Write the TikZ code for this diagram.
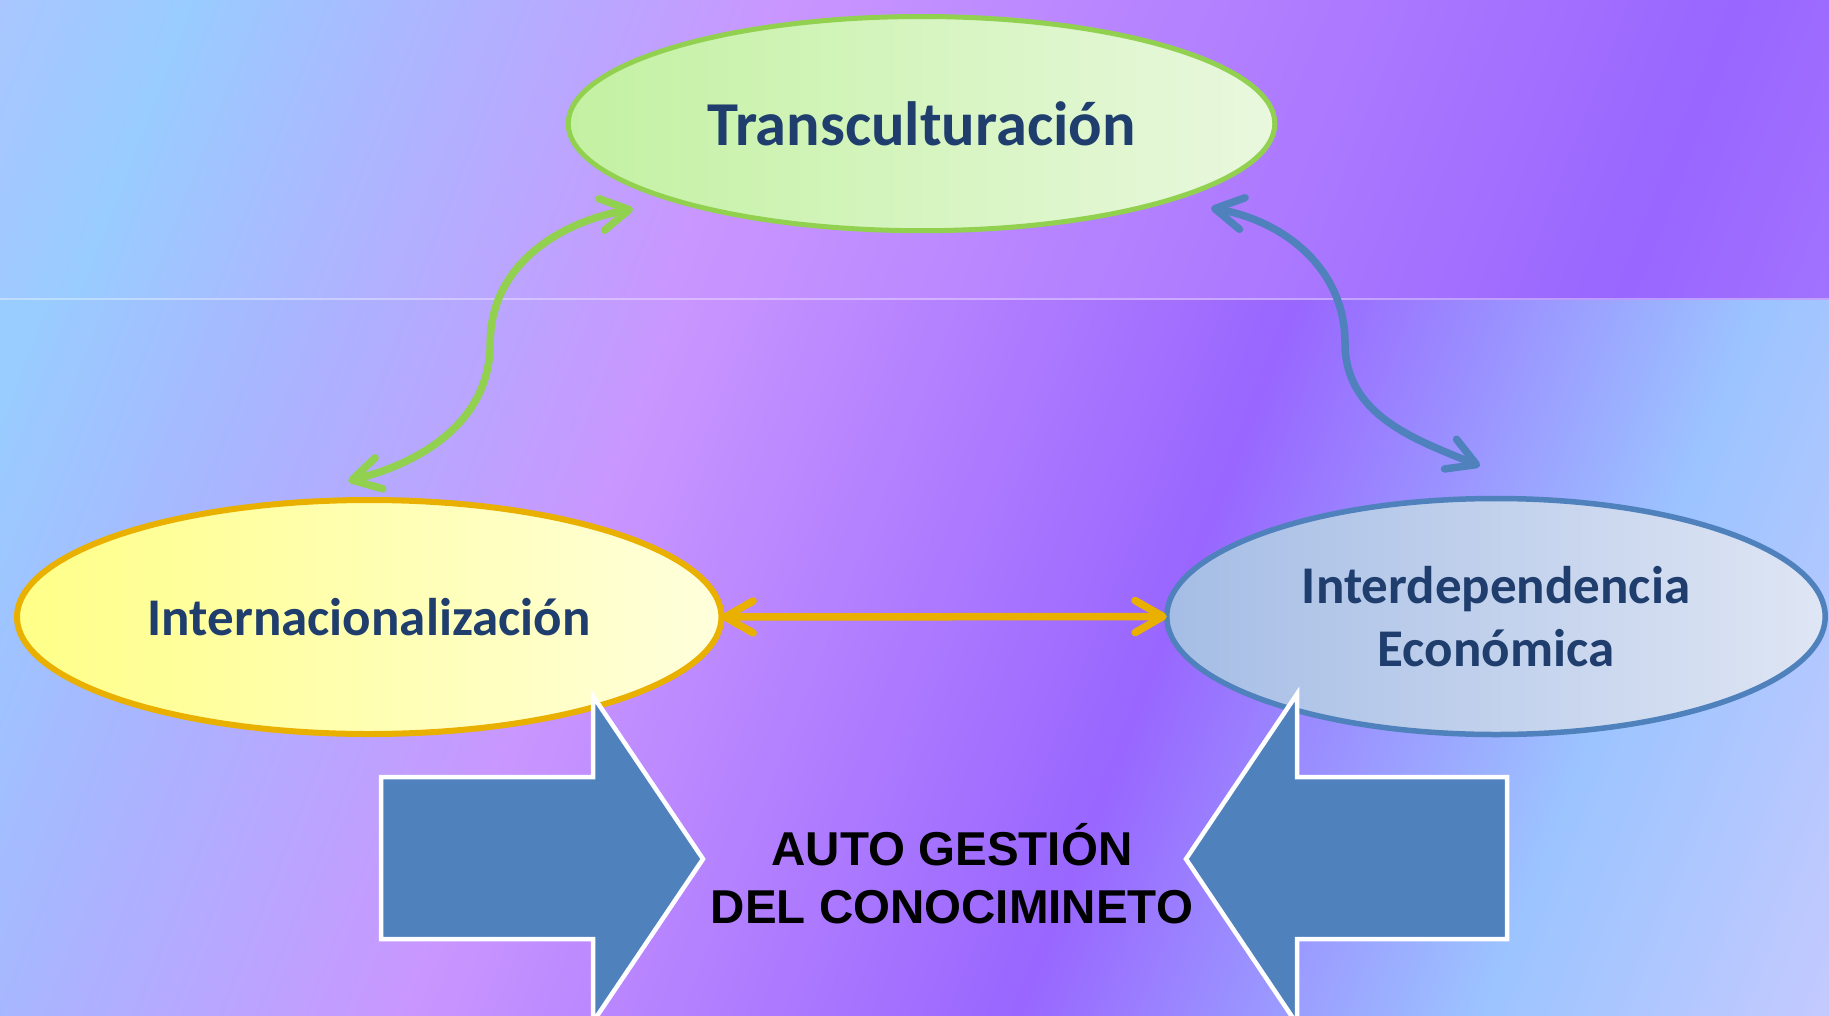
\documentclass[tikz,border=0pt]{standalone}
\usepackage{fontspec}
\newfontfamily\carlitofont{Carlito}
\newfontfamily\libsansfont{Liberation Sans}
\usetikzlibrary{shapes.geometric,arrows.meta,calc}

% background colours
\definecolor{bgA}{HTML}{A9C6FF}
\definecolor{bgLB}{HTML}{99CCFF}
\definecolor{bgLB2}{HTML}{A8B6FF}
\definecolor{bgPink}{HTML}{C996FF}
\definecolor{bgPurple}{HTML}{9966FF}
\definecolor{bgLB3}{HTML}{9CC4FF}
\definecolor{bgLav}{HTML}{C4CAFF}
\definecolor{bgTopEnd}{HTML}{A273FF}
% diagram colours
\definecolor{txtblue}{HTML}{1F3E6E}
\definecolor{trgreen}{HTML}{92D050}
\definecolor{trfillL}{HTML}{C3F1A2}
\definecolor{trfillR}{HTML}{E9F8DE}
\definecolor{inyellow}{HTML}{E9B000}
\definecolor{infillL}{HTML}{FFFF88}
\definecolor{infillR}{HTML}{FFFFDC}
\definecolor{ecblue}{HTML}{4F81BD}
\definecolor{ecfillL}{HTML}{A5BDE5}
\definecolor{ecfillR}{HTML}{DFE6F4}
\definecolor{blockblue}{HTML}{4F81BD}

\pgfdeclarehorizontalshading{bgLow}{1640bp}{color(0bp)=(bgLB); color(150bp)=(bgLB); color(380bp)=(bgLB2); color(750bp)=(bgPink); color(1315bp)=(bgPurple); color(1750bp)=(bgLB3); color(2075bp)=(bgLav)}
\pgfdeclarehorizontalshading{bgTop}{1640bp}{color(0bp)=(bgA); color(176bp)=(bgLB); color(730bp)=(bgPink); color(1620bp)=(bgPurple); color(1830bp)=(bgTopEnd); color(2075bp)=(bgTopEnd)}

\begin{document}
\begin{tikzpicture}[x=1bp,y=-1bp,
  lbl/.style={text=txtblue, align=center},
  oval/.style={ellipse, inner sep=0pt, outer sep=0pt},
  link/.style={line width=7.5bp, line cap=round,
    {Straight Barb[length=28bp,width=32bp,round]}-{Straight Barb[length=28bp,width=32bp,round]}},
  block/.style={fill=blockblue, draw=white, line width=4.5bp, line join=miter}
]
\useasboundingbox (0,0) rectangle (1829,1015);
\clip (0,0) rectangle (1829,1015);

% background: lower band
\begin{scope}
  \clip (0,299) rectangle (1829,1015);
  \node[inner sep=0pt, outer sep=0pt, rotate=-21.3, anchor=north west] (bglow) at (247.0,-633.6) {\pgfuseshading{bgLow}};
\end{scope}
% background: top band
\begin{scope}
  \clip (0,0) rectangle (1829,299);
  \node[inner sep=0pt, outer sep=0pt, rotate=-21.3, anchor=north west] (bgtop) at (247.0,-633.6) {\pgfuseshading{bgTop}};
\end{scope}
\draw[white, opacity=0.35, line width=1.5bp] (0,299) -- (1829,299);

% ellipses
\node[oval, draw=trgreen, line width=5bp, left color=trfillL, right color=trfillR,
  minimum width=706.6bp, minimum height=214.2bp, lbl,
  font=\carlitofont\bfseries\fontsize{62.5bp}{70bp}\selectfont] (trans) at (921.5,123.6) {Transculturación};
\node[oval, draw=inyellow, line width=6bp, left color=infillL, right color=infillR,
  minimum width=704.4bp, minimum height=234bp, lbl,
  font=\carlitofont\bfseries\fontsize{53bp}{63bp}\selectfont] (intl) at (369.2,617) {Internacionalización};
\node[oval, draw=ecblue, line width=5.5bp, left color=ecfillL, right color=ecfillR,
  minimum width=658.4bp, minimum height=236bp, lbl,
  font=\carlitofont\bfseries\fontsize{53bp}{63bp}\selectfont] (econ) at (1496,616.5) {Interdependencia\\Económica};

% connectors
\coordinate (gTop) at ($(trans.center)+(-288.5,85.4)$);
\coordinate (gMid) at ($(intl.center)+(121,-274)$);
\coordinate (gBot) at ($(intl.center)+(-21,-136)$);
\draw[link, draw=trgreen] (gTop) to[out=190,in=90] (gMid) to[out=-90,in=14] (gBot);

\coordinate (bTop) at ($(trans.center)+(289.5,84.4)$);
\coordinate (bMid) at ($(econ.center)+(-151,-273.5)$);
\coordinate (bBot) at ($(econ.center)+(-16,-150.5)$);
\draw[link, draw=ecblue] (bTop) to[out=-10,in=90] (bMid) to[out=-90,in=158] (bBot);

\draw[link, draw=inyellow] (intl.east) -- (econ.west);

% block arrows
\draw[block] (381,777) -- (593,777) -- (593,696) -- (703,859) -- (593,1022) -- (593,939) -- (381,939) -- cycle;
\draw[block] (1507,777) -- (1297,777) -- (1297,694) -- (1186,859) -- (1297,1024) -- (1297,939) -- (1507,939) -- cycle;

% centre text
\node[font=\libsansfont\bfseries\fontsize{47.5bp}{58bp}\selectfont, align=center, text=black, inner sep=0pt] (agc) at (952,874) {AUTO GESTIÓN\\DEL CONOCIMINETO};
\end{tikzpicture}
\end{document}
